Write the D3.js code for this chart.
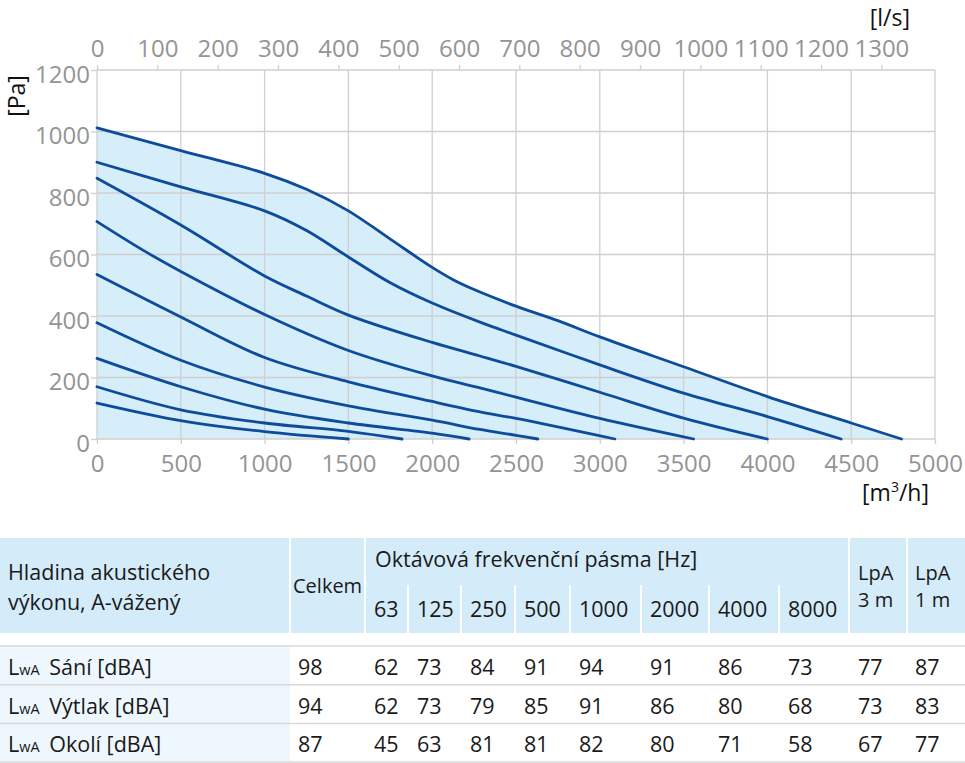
<!DOCTYPE html>
<html lang="cs">
<head>
<meta charset="UTF-8">
<title>Pracovní charakteristika</title>
<script src="https://d3js.org/d3.v7.min.js"></script>
<style>
  body { margin: 0; background: #fff; }
  svg { display: block; font-family: "Open Sans", "Noto Sans", sans-serif; }
  .tick-label { fill: #949494; font-size: 24px; }
  .unit { fill: #111; font-size: 23px; }
  .tbl { fill: #1a1a1a; font-size: 21.5px; }
</style>
</head>
<body>
<svg id="chart" width="965" height="763"></svg>
<script>
// chart values: [m3/h, Pa]
const c1 = [[0,1012],[500,938],[1000,864],[1250,812],[1500,742],[1750,650],[2000,558],[2125,518],[2250,486],[2500,432],[2750,385],[3000,332],[3500,235],[4000,138],[4500,52],[4800,0]];
const c2 = [[0,900],[500,820],[1000,742],[1250,678],[1500,592],[1750,508],[2000,442],[2285,380],[2500,338],[3000,241],[3500,149],[4000,73],[4440,0]];
const c3 = [[0,848],[500,696],[1000,530],[1250,465],[1500,403],[2000,314],[2285,270],[2500,236],[3000,152],[3500,68],[4000,0]];
const c4 = [[0,707],[284,611],[500,545],[1000,405],[1500,288],[2000,205],[2285,166],[2500,136],[3000,67],[3560,0]];
const c5 = [[0,535],[500,397],[1000,265],[1500,186],[2000,122],[2285,88],[2500,67],[3090,0]];
const c6 = [[0,378],[500,256],[1000,169],[1500,108],[2000,61],[2285,31],[2500,12],[2630,0]];
const c7 = [[0,262],[500,170],[1000,97],[1500,52],[2000,19],[2220,0]];
const c8 = [[0,170],[500,95],[1000,52],[1500,25],[1820,0]];
const c9 = [[0,117],[500,60],[1000,24],[1500,0]];
const curves = [c1, c2, c3, c4, c5, c6, c7, c8, c9];

const flowTicks = [0,500,1000,1500,2000,2500,3000,3500,4000,4500,5000];
const lsTicks = [0,100,200,300,400,500,600,700,800,900,1000,1100,1200,1300];
const paTicks = [0,200,400,600,800,1000,1200];

// acoustic table
const bands = ["63","125","250","500","1000","2000","4000","8000"];
const rowNames = ["Sání [dBA]","Výtlak [dBA]","Okolí [dBA]"];
const total = [98,94,87];
const sani = [62,73,84,91,94,91,86,73];
const vytlak = [62,73,79,85,91,86,80,68];
const okoli = [45,63,81,81,82,80,71,58];
const lpa3 = [77,73,67];
const lpa1 = [87,83,77];

const svg = d3.select("#chart");

const x = d3.scaleLinear().domain([0,5000]).range([97,935]);
const xLs = d3.scaleLinear().domain([0,5000/3.6]).range([97,935]);
const y = d3.scaleLinear().domain([0,1200]).range([439,70]);

const curve = d3.curveCatmullRom.alpha(0.5);

// light blue field under the top curve
svg.append("path")
  .datum(c1)
  .attr("fill", "#d6edfa")
  .attr("d", d3.area().x(d => x(d[0])).y0(y(0)).y1(d => y(d[1])).curve(curve));

// grid
const grid = svg.append("g").attr("stroke", "#cfcfcf").attr("stroke-width", 1.3);
grid.selectAll(".v").data(flowTicks).enter().append("line")
  .attr("x1", d => x(d)).attr("x2", d => x(d)).attr("y1", y(1200)).attr("y2", y(0));
grid.selectAll(".h").data(paTicks).enter().append("line")
  .attr("x1", x(0)).attr("x2", x(5000)).attr("y1", d => y(d)).attr("y2", d => y(d));

// axes (ticks + labels)
function styleAxis(g) {
  g.select(".domain").remove();
  g.selectAll(".tick line").attr("stroke", "#cfcfcf").attr("stroke-width", 1.3);
  g.selectAll(".tick text").attr("class", "tick-label").attr("fill", null).attr("dy", null);
  g.attr("font-family", null).attr("font-size", null);
}

svg.append("g")
  .attr("transform", `translate(0,${y(0)})`)
  .call(d3.axisBottom(x).tickValues(flowTicks).tickSize(5).tickFormat(d3.format("d")))
  .call(g => { styleAxis(g); g.selectAll(".tick text").attr("y", 33); });

svg.append("g")
  .attr("transform", `translate(0,${y(1200)})`)
  .call(d3.axisTop(xLs).tickValues(lsTicks).tickSize(5).tickFormat(d3.format("d")))
  .call(g => { styleAxis(g); g.selectAll(".tick text").attr("y", -13); });

svg.append("g")
  .attr("transform", `translate(${x(0)},0)`)
  .call(d3.axisLeft(y).tickValues(paTicks).tickSize(6).tickFormat(d3.format("d")))
  .call(g => { styleAxis(g); g.selectAll(".tick text").attr("x", -7).attr("y", 12); });

// fan curves
const line = d3.line().x(d => x(d[0])).y(d => y(d[1])).curve(curve);
svg.append("g").selectAll("path").data(curves).enter().append("path")
  .attr("d", line)
  .attr("fill", "none")
  .attr("stroke", "#0d4b9b")
  .attr("stroke-width", 2.8)
  .attr("stroke-linecap", "round");

// units
svg.append("text").attr("class", "unit").attr("x", 910).attr("y", 26).attr("text-anchor", "end").text("[l/s]");
const mh = svg.append("text").attr("class", "unit").attr("x", 929).attr("y", 501).attr("text-anchor", "end");
mh.append("tspan").text("[m");
mh.append("tspan").attr("font-size", 14).attr("dy", -9).text("3");
mh.append("tspan").attr("dy", 9).text("/h]");
svg.append("text").attr("class", "unit")
  .attr("transform", "translate(25,96) rotate(-90)")
  .attr("text-anchor", "middle").text("[Pa]");

// ---- table ----
const colX = [0,290,365,408,461,515,570,641,709,779,849,907,965];
const headTop = 538, headBot = 633, rowTop = 646, rowH = 38.7;
const t = svg.append("g");

t.append("rect").attr("x", 0).attr("y", headTop).attr("width", 965).attr("height", headBot - headTop).attr("fill", "#d4ebf9");
t.append("rect").attr("x", 0).attr("y", rowTop).attr("width", colX[1]).attr("height", rowH * 3).attr("fill", "#eef7fd");

[colX[1], colX[2], colX[10], colX[11]].forEach(cx => {
  t.append("line").attr("x1", cx).attr("x2", cx).attr("y1", headTop).attr("y2", headBot)
    .attr("stroke", "#fff").attr("stroke-width", 2);
});
colX.slice(3, 10).forEach(cx => {
  t.append("line").attr("x1", cx).attr("x2", cx).attr("y1", 585).attr("y2", headBot)
    .attr("stroke", "#fff").attr("stroke-width", 2);
});
d3.range(4).forEach(i => {
  t.append("line").attr("x1", 0).attr("x2", 965)
    .attr("y1", rowTop + i * rowH).attr("y2", rowTop + i * rowH)
    .attr("stroke", "#d9d9d9").attr("stroke-width", 1.5);
});

function txt(x0, y0, s) {
  return t.append("text").attr("class", "tbl").attr("x", x0).attr("y", y0).text(s);
}
txt(8, 580, "Hladina akustického");
txt(8, 610, "výkonu, A-vážený");
txt(293, 593, "Celkem").style("font-size", "20px");
txt(colX[2] + 10, 567, "Oktávová frekvenční pásma [Hz]");
bands.forEach((b, i) => txt(colX[i + 2] + 9, 617, b));
txt(colX[10] + 9, 580, "LpA").style("font-size", "20px");
txt(colX[10] + 9, 607, "3 m").style("font-size", "20px");
txt(colX[11] + 8, 580, "LpA").style("font-size", "20px");
txt(colX[11] + 8, 607, "1 m").style("font-size", "20px");

const bandRows = [sani, vytlak, okoli];
rowNames.forEach((name, r) => {
  const by = rowTop + r * rowH + 29;
  const lab = t.append("text").attr("class", "tbl").attr("x", 8).attr("y", by);
  lab.append("tspan").text("L");
  lab.append("tspan").attr("font-size", 14.5).text("wA");
  lab.append("tspan").attr("dx", 4).text(" " + name);
  txt(colX[1] + 8, by, total[r]);
  bandRows[r].forEach((v, i) => txt(colX[i + 2] + 9, by, v));
  txt(colX[10] + 9, by, lpa3[r]);
  txt(colX[11] + 8, by, lpa1[r]);
});
</script>
</body>
</html>
